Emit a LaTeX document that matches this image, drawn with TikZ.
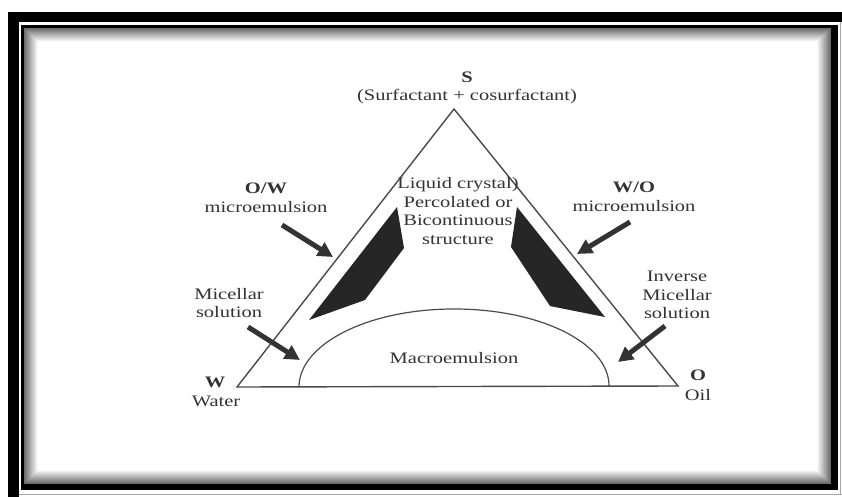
\documentclass[tikz,border=0pt]{standalone}
\usepackage{fontspec}
\newfontfamily\wf[FakeStretch=1.28]{Liberation Serif}
\usetikzlibrary{arrows.meta}
\definecolor{ink}{HTML}{333333}
\definecolor{linec}{HTML}{4A4A4A}
\begin{document}
\begin{tikzpicture}[x=1pt,y=-1pt,
  lbl/.style={font={\wf\fontsize{16}{18.5}\selectfont}, text=ink, inner sep=0pt, align=center},
  blbl/.style={lbl, font={\wf\fontsize{16}{18.5}\selectfont\bfseries}},
  edge/.style={draw=linec, line width=1.4pt, line join=miter},
  region/.style={fill=black!85, draw=none},
  bigarrow/.style={draw=ink, line width=5pt, -{Triangle[length=15pt,width=15pt]}}
]
\useasboundingbox (0,0) rectangle (842,497);
\fill[white] (0,0) rectangle (842,497);
% frame
\fill[black] (8,12) rectangle (842,22);
\fill[black] (8,12) rectangle (19,497);
\fill[black] (21,25) rectangle (838,490);
\fill[white] (24,28) rectangle (831,484);
\foreach \i in {0,...,13} {
  \pgfmathsetmacro{\c}{58-4.3*\i}
  \draw[black!\c, line width=1.1pt] (24.5+\i,28.5+\i) rectangle (830.5-\i,483.5-\i);
}
\draw[black!35, line width=0.8pt] (19,494) -- (842,494);
\draw[black!35, line width=0.8pt] (840,22) -- (840,494);

% triangle
\coordinate (vW) at (237,387);
\coordinate (vO) at (678,386);
\coordinate (vS) at (454,109);
\draw[edge] (vW) -- (vO) -- (vS) -- cycle;

% macroemulsion arc
\coordinate (mL) at (299,387);
\coordinate (mT) at (454,309);
\coordinate (mR) at (609,386);
\draw[edge, line width=1.2pt] (mL) .. controls (299,344) and (368,309) .. (mT)
  .. controls (540,309) and (609,343) .. (mR);

% dark regions
\fill[region] (397,207) -- (404,248) -- (365,300) -- (309,320) -- cycle;
\fill[region] (517,207) -- (511,247) -- (550,306) -- (605,317) -- cycle;

% arrows
\coordinate (a1s) at (282,225); \coordinate (a1e) at (333,257);
\coordinate (a2s) at (630,222); \coordinate (a2e) at (577,254);
\coordinate (a3s) at (248,327); \coordinate (a3e) at (300,360);
\coordinate (a4s) at (665,326); \coordinate (a4e) at (618,362);
\draw[bigarrow] (a1s) -- (a1e);
\draw[bigarrow] (a2s) -- (a2e);
\draw[bigarrow] (a3s) -- (a3e);
\draw[bigarrow] (a4s) -- (a4e);

% labels
\node[blbl] (S) at (467,77) {S};
\node[lbl] (Ssub) at (467,97) {(Surfactant + cosurfactant)};
\node[lbl] (ow) at (266,198) {{\bfseries O/W}\\microemulsion};
\node[lbl] (wo) at (634,197) {{\bfseries W/O}\\microemulsion};
\node[lbl] (lc) at (458,211) {Liquid crystal)\\Percolated or\\Bicontinuous\\structure};
\node[lbl] (mic) at (229,303) {Micellar\\solution};
\node[lbl] (imic) at (677,295) {Inverse\\Micellar\\solution};
\node[lbl] (macro) at (454,358) {Macroemulsion};
\node[blbl] (W) at (215,382) {W};
\node[lbl] (water) at (216,401) {Water};
\node[blbl] (O) at (698,375) {O};
\node[lbl] (oil) at (698,395) {Oil};
\end{tikzpicture}
\end{document}
